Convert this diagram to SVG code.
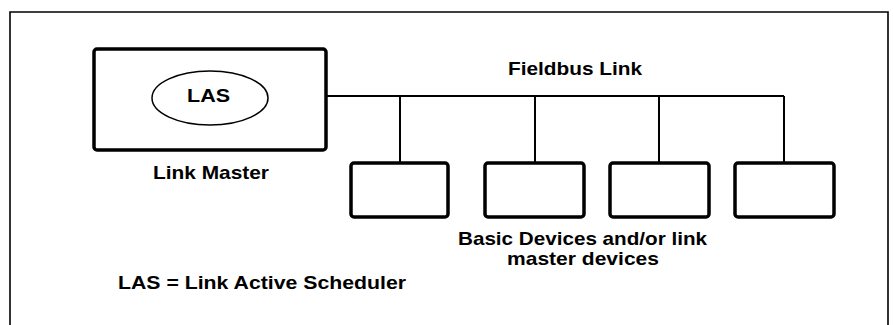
<svg xmlns="http://www.w3.org/2000/svg" width="893" height="325" viewBox="0 0 893 325">
<style>
.t{font-family:"Liberation Sans",Arial,sans-serif;font-weight:bold;font-size:19px;fill:#000}
.box{fill:#fff;stroke:#000;stroke-width:3.5;stroke-linejoin:round}
.ln{fill:none;stroke:#000;stroke-width:2}
</style>
<rect x="0" y="0" width="893" height="325" fill="#fff"/>
<path d="M10,330 V12 H888 V330" fill="none" stroke="#000" stroke-width="1.6"/>
<g id="connectors">
<path class="ln" d="M326,96 H784"/>
<path class="ln" d="M400,96 V163"/>
<path class="ln" d="M535,96 V163"/>
<path class="ln" d="M659,96 V163"/>
<path class="ln" d="M784,96 V163"/>
</g>
<g id="link-master">
<rect class="box" x="94" y="49" width="232" height="101" rx="3"/>
<ellipse cx="210" cy="98" rx="58" ry="27" fill="#fff" stroke="#000" stroke-width="1.5"/>
<text class="t" x="208.5" y="102" text-anchor="middle" textLength="43" lengthAdjust="spacingAndGlyphs">LAS</text>
<text class="t" x="211" y="179" text-anchor="middle" textLength="116" lengthAdjust="spacingAndGlyphs">Link Master</text>
</g>
<g id="fieldbus-label">
<text class="t" x="575" y="74.5" text-anchor="middle" textLength="134" lengthAdjust="spacingAndGlyphs">Fieldbus Link</text>
</g>
<g id="device1"><rect class="box" x="351" y="163" width="97" height="54" rx="3"/></g>
<g id="device2"><rect class="box" x="485" y="163" width="99" height="54" rx="3"/></g>
<g id="device3"><rect class="box" x="610" y="163" width="99" height="54" rx="3"/></g>
<g id="device4"><rect class="box" x="735" y="163" width="99" height="54" rx="3"/></g>
<g id="devices-label">
<text class="t" x="582.5" y="244.5" text-anchor="middle" textLength="249" lengthAdjust="spacingAndGlyphs">Basic Devices and/or link</text>
<text class="t" x="583" y="265" text-anchor="middle" textLength="152" lengthAdjust="spacingAndGlyphs">master devices</text>
</g>
<g id="legend">
<text class="t" x="262" y="288.8" text-anchor="middle" textLength="288" lengthAdjust="spacingAndGlyphs">LAS = Link Active Scheduler</text>
</g>
</svg>
